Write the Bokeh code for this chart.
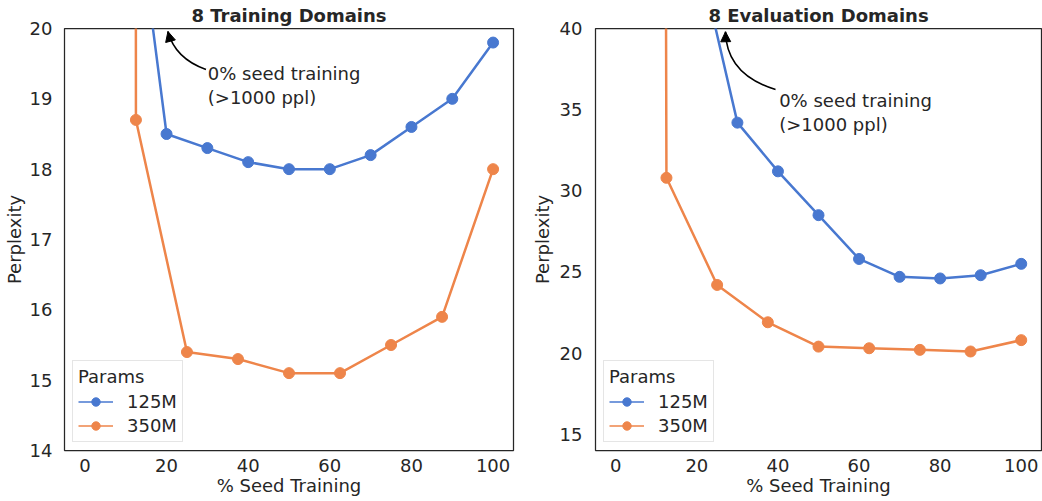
from bokeh.plotting import figure
from bokeh.layouts import row
from bokeh.models import Legend, LegendItem, Arrow, NormalHead, Range1d
from bokeh.core.properties import value
from bokeh.embed import file_html
from bokeh.resources import INLINE

# ---------------- data ----------------
pct_125m = [0, 10, 20, 30, 40, 50, 60, 70, 80, 90, 100]
pct_350m = [0, 12.5, 25, 37.5, 50, 62.5, 75, 87.5, 100]

train_125m = [1200, 23.0, 18.5, 18.3, 18.1, 18.0, 18.0, 18.2, 18.6, 19.0, 19.8]
train_350m = [1200, 18.7, 15.4, 15.3, 15.1, 15.1, 15.5, 15.9, 18.0]

eval_125m = [1200, 62.0, 45.0, 34.2, 31.2, 28.5, 25.8, 24.7, 24.6, 24.8, 25.5]
eval_350m = [1200, 30.8, 24.2, 21.9, 20.4, 20.3, 20.2, 20.1, 20.8]

titles = ["8 Training Domains", "8 Evaluation Domains"]
series_labels = ["125M", "350M"]
x_ticks = [0, 20, 40, 60, 80, 100]
train_y_ticks = [14, 15, 16, 17, 18, 19, 20]
eval_y_ticks = [15, 20, 25, 30, 35, 40]
annotation_text = "0% seed training\n(>1000 ppl)"

# ---------------- style ----------------
FONT = "DejaVu Sans"
INK = "#262626"
BLUE = "#4878d0"
ORANGE = "#ee854a"
FS = "18px"


def make_panel(title, y125, y350, y_range, y_ticks, frame_w, border_left, border_right,
               ylabel_standoff, ylabel_tick_standoff, text_pos, arrow_tip, arrow_ctrl, arrow_tail):
    p = figure(frame_width=frame_w, frame_height=422, output_backend="svg", toolbar_location=None,
               x_range=Range1d(-5, 105), y_range=Range1d(*y_range),
               min_border_left=border_left, min_border_right=border_right,
               min_border_top=26, min_border_bottom=50, title=title)
    p.title.text_font = FONT
    p.title.text_font_size = FS
    p.title.text_font_style = "bold"
    p.title.text_color = INK
    p.title.align = "center"
    p.title.standoff = 5

    p.outline_line_color = INK
    p.outline_line_width = 1.25
    p.xgrid.visible = False
    p.ygrid.visible = False

    for ax in (p.xaxis, p.yaxis):
        ax.axis_line_color = None
        ax.major_tick_out = 0
        ax.major_tick_in = 0
        ax.minor_tick_out = 0
        ax.minor_tick_in = 0
        ax.major_label_text_font = FONT
        ax.major_label_text_font_size = FS
        ax.major_label_text_color = INK
        ax.axis_label_text_font = FONT
        ax.axis_label_text_font_size = FS
        ax.axis_label_text_font_style = "normal"
        ax.axis_label_text_color = INK

    p.xaxis.ticker = x_ticks
    p.yaxis.ticker = y_ticks
    p.xaxis.axis_label = "% Seed Training"
    p.yaxis.axis_label = "Perplexity"
    p.xaxis.major_label_standoff = 8
    p.xaxis.axis_label_standoff = 0
    p.yaxis.major_label_standoff = ylabel_tick_standoff
    p.yaxis.axis_label_standoff = ylabel_standoff

    # data lines
    p.line(pct_125m, y125, line_color=BLUE, line_width=2.5)
    p.scatter(pct_125m, y125, size=11, fill_color=BLUE, line_color=BLUE)
    p.line(pct_350m, y350, line_color=ORANGE, line_width=2.5)
    p.scatter(pct_350m, y350, size=11, fill_color=ORANGE, line_color=ORANGE)

    # legend proxies (same data, hidden, smaller glyphs)
    lb = p.line(pct_125m, y125, line_color=BLUE, line_width=1.6, visible=False)
    sb = p.scatter(pct_125m, y125, size=8, fill_color=BLUE, line_color=BLUE, visible=False)
    lo = p.line(pct_350m, y350, line_color=ORANGE, line_width=1.6, visible=False)
    so = p.scatter(pct_350m, y350, size=8, fill_color=ORANGE, line_color=ORANGE, visible=False)
    legend = Legend(items=[LegendItem(label=series_labels[0], renderers=[lb, sb]),
                           LegendItem(label=series_labels[1], renderers=[lo, so])],
                    location="bottom_left", title="Params")
    legend.margin = 8
    legend.padding = 5
    legend.spacing = 3
    legend.label_height = 21
    legend.glyph_height = 21
    legend.glyph_width = 35
    legend.label_standoff = 14
    legend.title_standoff = 4
    legend.label_text_font = FONT
    legend.label_text_font_size = FS
    legend.label_text_color = INK
    legend.title_text_font = FONT
    legend.title_text_font_size = FS
    legend.title_text_font_style = "normal"
    legend.title_text_color = INK
    legend.border_line_color = "#cccccc"
    legend.border_line_width = 1
    legend.background_fill_alpha = 0.8
    p.add_layout(legend)

    # annotation
    p.text(x=[text_pos[0]], y=[text_pos[1]], text=[annotation_text],
           text_font=value(FONT), text_font_size=FS, text_color=INK,
           text_align="left", text_baseline="top", text_line_height=1.15)
    p.quadratic(x0=[arrow_tail[0]], y0=[arrow_tail[1]], x1=[arrow_tip[0]], y1=[arrow_tip[1]],
                cx=[arrow_ctrl[0]], cy=[arrow_ctrl[1]], line_color="black", line_width=1.6)
    p.add_layout(Arrow(end=NormalHead(size=10, fill_color="black", line_color="black", line_width=1),
                       x_start=arrow_ctrl[0], y_start=arrow_ctrl[1],
                       x_end=arrow_tip[0], y_end=arrow_tip[1], line_alpha=0))
    return p


p1 = make_panel(titles[0], train_125m, train_350m, (14, 20), train_y_ticks,
                frame_w=449, border_left=58, border_right=15,
                ylabel_standoff=2, ylabel_tick_standoff=12,
                text_pos=(30.1, 19.516), arrow_tip=(20.34, 19.957),
                arrow_ctrl=(22.1, 19.573), arrow_tail=(29.66, 19.417))
p2 = make_panel(titles[1], eval_125m, eval_350m, (14, 40), eval_y_ticks,
                frame_w=446, border_left=64, border_right=1,
                ylabel_standoff=4, ylabel_tick_standoff=13,
                text_pos=(40.3, 36.21), arrow_tip=(27.06, 39.80),
                arrow_ctrl=(27.3, 37.17), arrow_tail=(39.4, 36.24))

layout = row(p1, p2)
open("out.html", "w").write(file_html(layout, INLINE))
